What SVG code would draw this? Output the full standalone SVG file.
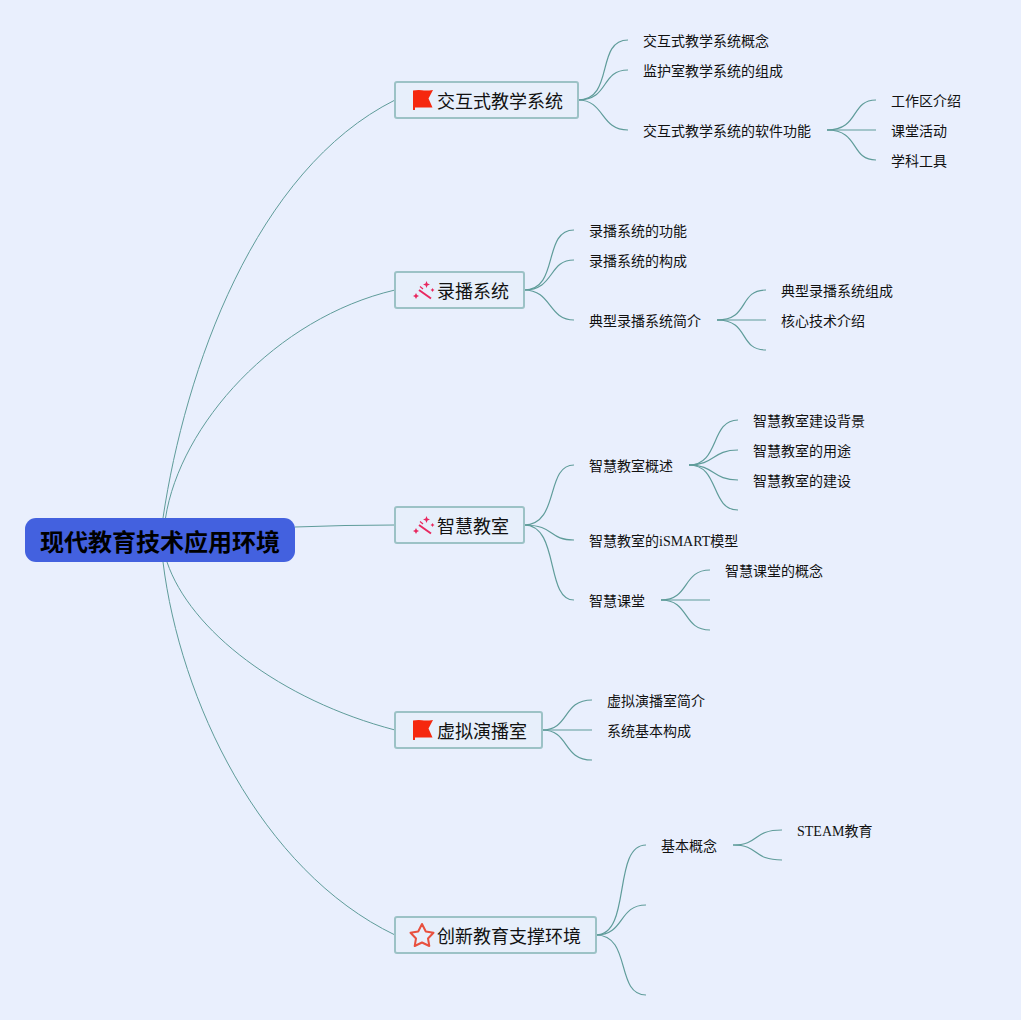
<svg xmlns="http://www.w3.org/2000/svg" width="1021" height="1020" viewBox="0 0 1021 1020">
<style>
.bg{fill:#e9effd}
.c path{fill:none;stroke:#5f9c9a;stroke-width:1.200}
.c path.r{stroke-width:1}
.root rect{fill:#4361df}
.root text{font:bold 24px "Liberation Sans","Noto Sans CJK SC",sans-serif;fill:#000;text-anchor:middle}
.mid rect{fill:#e7effb;stroke:#9cc2c6;stroke-width:2}
.mid text{font:18px "Liberation Serif","Noto Sans CJK SC",sans-serif;fill:#111}
.leaf{font:14px "Liberation Serif","Noto Sans CJK SC",sans-serif;fill:#111}
</style>
<defs>
<g id="flag"><path d="M1 1.500Q6 .500 10 1.200T21 1L16.500 9.500L20.500 18.500H3V21H1Z" fill="#f5280f"/></g>
<g id="wand"><path d="M6 9L18 17.500" stroke="#e8285f" stroke-width="2" fill="none"/><path d="M7 5.500L10 8" stroke="#e8285f" stroke-width="1.200" fill="none"/><path d="M13.500 0L14.500 2.500 17 3.500 14.500 4.500 13.500 7 12.500 4.500 10 3.500 12.500 2.500ZM3 12L4 14 6 15 4 16 3 18 2 16 0 15 2 14ZM19.500 7L20.200 8.300 21.500 9 20.200 9.700 19.500 11 18.800 9.700 17.500 9 18.800 8.300Z" fill="#e8285f"/></g>
</defs>
<rect class="bg" width="1021" height="1020"/>
<g class="c" id="connectors">
<path class="r" d="M163 518C185 370 255 170 395 100"/>
<path class="r" d="M165.500 518C180 425 275 318 395 290"/>
<path class="r" d="M295 527Q345 525 395 525"/>
<path class="r" d="M167 562C190 630 280 700 395 730"/>
<path class="r" d="M163 562C180 700 260 870 395 935"/>
<path d="M578 100C615 100 595 40 628 40"/>
<path d="M578 100C610 100 600 70 628 70"/>
<path d="M578 100C605 100 600 130 628 130"/>
<path d="M827 130C860 130 850 100 876 100"/>
<path d="M827 130H876"/>
<path d="M827 130C860 130 850 160 876 160"/>
<path d="M524 290C560 290 542 230 574 230"/>
<path d="M524 290C555 290 548 260 574 260"/>
<path d="M524 290C552 290 548 320 574 320"/>
<path d="M717 320C750 320 738 290 766 290"/>
<path d="M717 320H766"/>
<path d="M717 320C750 320 738 350 766 350"/>
<path d="M524 525C560 525 545 465 574 465"/>
<path d="M524 525C555 525 548 540 574 540"/>
<path d="M524 525C560 525 545 600 574 600"/>
<path d="M689 465C720 465 710 420 738 420"/>
<path d="M689 465C715 465 712 450 738 450"/>
<path d="M689 465C715 465 712 480 738 480"/>
<path d="M689 465C720 465 710 510 738 510"/>
<path d="M661 600C690 600 682 570 710 570"/>
<path d="M661 600H710"/>
<path d="M661 600C690 600 682 630 710 630"/>
<path d="M542 730C570 730 562 700 592 700"/>
<path d="M542 730H592"/>
<path d="M542 730C570 730 562 760 592 760"/>
<path d="M596 935C632 935 612 845 646 845"/>
<path d="M596 935C625 935 618 905 646 905"/>
<path d="M596 935C632 935 615 995 646 995"/>
<path d="M733 845C760 845 752 830 782 830"/>
<path d="M733 845C760 845 752 860 782 860"/>
</g>
<g class="root" id="root"><rect x="25" y="518" width="270" height="44" rx="11"/><text x="160" y="551">现代教育技术应用环境</text></g>
<g class="mid" id="n1"><rect x="395" y="82" width="183" height="36" rx="2"/><use href="#flag" x="412" y="89"/><text x="437" y="108">交互式教学系统</text></g>
<g class="mid" id="n2"><rect x="395" y="272" width="129" height="36" rx="2"/><use href="#wand" x="413" y="281"/><text x="437" y="298">录播系统</text></g>
<g class="mid" id="n3"><rect x="395" y="507" width="129" height="36" rx="2"/><use href="#wand" x="413" y="516"/><text x="437" y="533">智慧教室</text></g>
<g class="mid" id="n4"><rect x="395" y="712" width="147" height="36" rx="2"/><use href="#flag" x="412" y="719"/><text x="437" y="738">虚拟演播室</text></g>
<g class="mid" id="n5"><rect x="395" y="917" width="201" height="36" rx="2"/><path d="M422 924L425.800 931.500 433.500 932.800 428 938.500 429.300 946 422 942.500 414.700 946 416 938.500 410.500 932.800 418.200 931.500Z" fill="none" stroke="#e8503e" stroke-width="2" stroke-linejoin="round"/><text x="437" y="943">创新教育支撑环境</text></g>
<g id="leaves">
<g id="l1"><text class="leaf" x="643" y="46">交互式教学系统概念</text></g>
<g id="l2"><text class="leaf" x="643" y="76">监护室教学系统的组成</text></g>
<g id="l3"><text class="leaf" x="643" y="136">交互式教学系统的软件功能</text></g>
<g id="l4"><text class="leaf" x="891" y="106">工作区介绍</text></g>
<g id="l5"><text class="leaf" x="891" y="136">课堂活动</text></g>
<g id="l6"><text class="leaf" x="891" y="166">学科工具</text></g>
<g id="l7"><text class="leaf" x="589" y="236">录播系统的功能</text></g>
<g id="l8"><text class="leaf" x="589" y="266">录播系统的构成</text></g>
<g id="l9"><text class="leaf" x="589" y="326">典型录播系统简介</text></g>
<g id="l10"><text class="leaf" x="781" y="296">典型录播系统组成</text></g>
<g id="l11"><text class="leaf" x="781" y="326">核心技术介绍</text></g>
<g id="l12"><text class="leaf" x="589" y="471">智慧教室概述</text></g>
<g id="l13"><text class="leaf" x="753" y="426">智慧教室建设背景</text></g>
<g id="l14"><text class="leaf" x="753" y="456">智慧教室的用途</text></g>
<g id="l15"><text class="leaf" x="753" y="486">智慧教室的建设</text></g>
<g id="l16"><text class="leaf" x="589" y="546">智慧教室的iSMART模型</text></g>
<g id="l17"><text class="leaf" x="589" y="606">智慧课堂</text></g>
<g id="l18"><text class="leaf" x="725" y="576">智慧课堂的概念</text></g>
<g id="l19"><text class="leaf" x="607" y="706">虚拟演播室简介</text></g>
<g id="l20"><text class="leaf" x="607" y="736">系统基本构成</text></g>
<g id="l21"><text class="leaf" x="661" y="851">基本概念</text></g>
<g id="l22"><text class="leaf" x="797" y="836">STEAM教育</text></g>
</g>
</svg>
